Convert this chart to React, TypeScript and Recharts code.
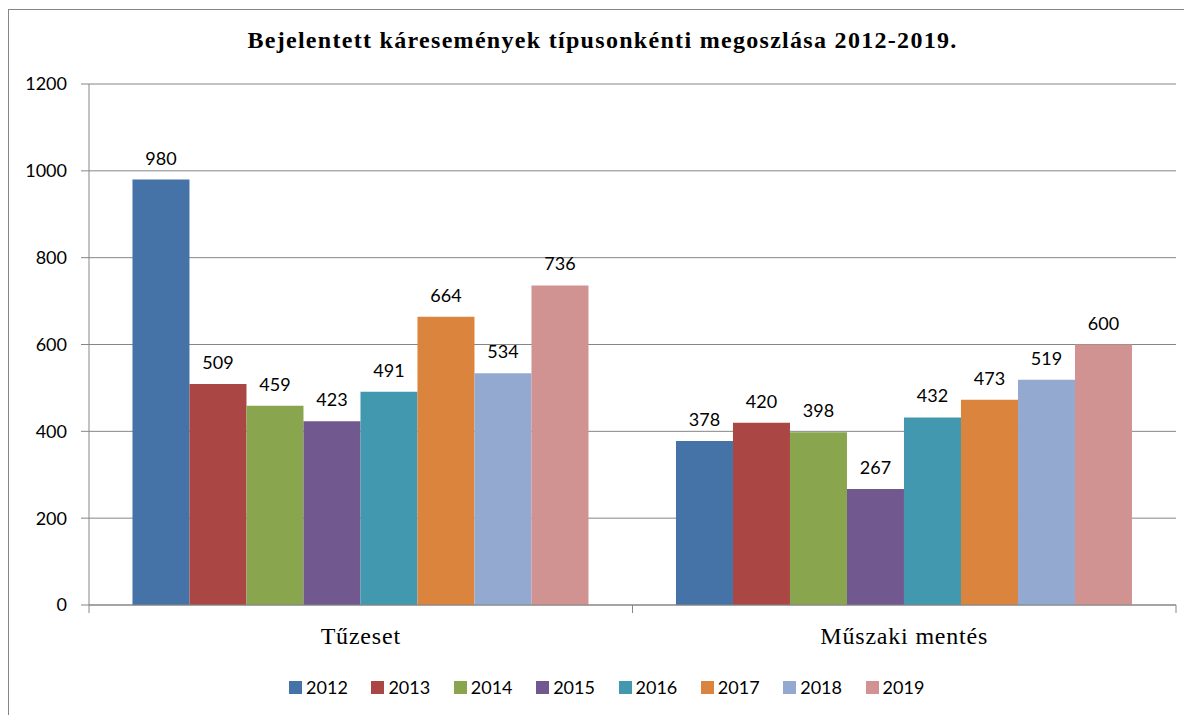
import React from "react";
import {
  BarChart,
  Bar,
  XAxis,
  YAxis,
  CartesianGrid,
  Legend,
  LabelList,
} from "recharts";

const TITLE = "Bejelentett káresemények típusonkénti megoszlása 2012-2019.";
const CATEGORIES = ["Tűzeset", "Műszaki mentés"];
const YEARS = ["2012", "2013", "2014", "2015", "2016", "2017", "2018", "2019"];
const TUZESET = [980, 509, 459, 423, 491, 664, 534, 736];
const MUSZAKI = [378, 420, 398, 267, 432, 473, 519, 600];
const Y_TICKS = [0, 200, 400, 600, 800, 1000, 1200];
const COLORS = [
  "#4572A7", "#AA4643", "#89A54E", "#71588F",
  "#4198AF", "#DB843D", "#93A9CF", "#D19392",
];

const W = 1184;
const H = 707;
const MARGIN = { top: 76, right: 16, bottom: 16, left: 0 };
const Y_W = 81;
const BAND = (W - Y_W - MARGIN.right) / CATEGORIES.length;
const GRID = "#868686";
const SANS = "Lato, 'Open Sans', sans-serif";
const SERIF = "'Liberation Serif', 'Times New Roman', serif";

const rows = CATEGORIES.map((c, ci) => {
  const src = ci === 0 ? TUZESET : MUSZAKI;
  const row: Record<string, string | number> = { name: c };
  YEARS.forEach((y, i) => (row[y] = src[i]));
  return row;
});

// category label + small ticks on the band edges (Excel style)
const CategoryTick = (props: any) => {
  const { x, y, payload } = props;
  const half = BAND / 2;
  return (
    <g>
      <line x1={x - half} x2={x - half} y1={y} y2={y + 8} stroke={GRID} />
      <line x1={x + half} x2={x + half} y1={y} y2={y + 8} stroke={GRID} />
      <text
        x={x}
        y={y + 39}
        textAnchor="middle"
        fontFamily={SERIF}
        fontSize={24}
        letterSpacing={0.8}
        fill="#000"
      >
        {payload.value}
      </text>
    </g>
  );
};

const renderLegend = () => (
  <div
    style={{
      display: "flex",
      justifyContent: "center",
      paddingLeft: 53,
      height: 24,
      alignItems: "center",
      fontFamily: SANS,
      fontSize: 18,
      color: "#000",
    }}
  >
    {YEARS.map((y, i) => (
      <span key={y} style={{ display: "inline-flex", alignItems: "center", marginRight: 23.6 }}>
        <span style={{ width: 13, height: 13, background: COLORS[i], marginRight: 4 }} />
        {y}
      </span>
    ))}
  </div>
);

export default function App() {
  return (
    <div style={{ position: "relative", width: W, height: H, overflow: "hidden" }}>
      <div
        style={{
          position: "absolute",
          left: 0,
          top: 1,
          width: 1240,
          height: 760,
          border: `1px solid ${GRID}`,
        }}
      />
      <div
        style={{
          position: "absolute",
          top: 17,
          left: 0,
          width: 1189,
          textAlign: "center",
          fontFamily: SERIF,
          fontWeight: "bold",
          fontSize: 24,
          lineHeight: "30px",
          letterSpacing: 1.3,
          whiteSpace: "nowrap",
        }}
      >
        {TITLE}
      </div>
      <div style={{ position: "absolute", left: 0, top: 0 }}>
        <BarChart
          width={W}
          height={H}
          data={rows}
          margin={MARGIN}
          barCategoryGap="8%"
          barGap={0}
        >
          <CartesianGrid vertical={false} stroke={GRID} />
          <XAxis
            dataKey="name"
            height={70}
            axisLine={{ stroke: GRID }}
            tickLine={false}
            tickSize={0}
            tickMargin={0}
            tick={<CategoryTick />}
            interval={0}
          />
          <YAxis
            width={Y_W}
            domain={[0, 1200]}
            ticks={Y_TICKS}
            interval={0}
            tickSize={8}
            tickMargin={14}
            axisLine={{ stroke: GRID }}
            tickLine={{ stroke: GRID }}
            tick={{ fontFamily: SANS, fontSize: 18, fill: "#000" }}
          />
          <Legend verticalAlign="bottom" content={renderLegend} />
          {YEARS.map((y, i) => (
            <Bar key={y} dataKey={y} fill={COLORS[i]} isAnimationActive={false}>
              <LabelList
                dataKey={y}
                position="top"
                offset={15}
                fontFamily={SANS}
                fontSize={18}
                fill="#000"
              />
            </Bar>
          ))}
        </BarChart>
      </div>
    </div>
  );
}
